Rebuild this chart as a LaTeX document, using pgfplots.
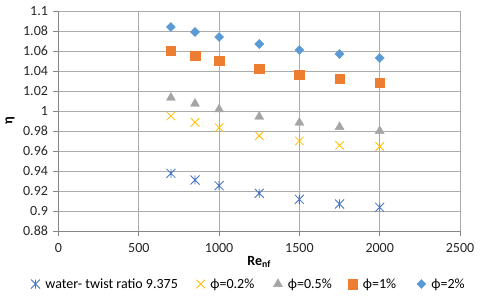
\documentclass[border=0pt]{standalone}
\usepackage{pgfplots}
\pgfplotsset{compat=1.18}
\usepackage{fontspec}
\setmainfont{Carlito}
\definecolor{cStar}{HTML}{4472C4}
\definecolor{cYel}{HTML}{FFC000}
\definecolor{cGray}{HTML}{A5A5A5}
\definecolor{cOra}{HTML}{ED7D31}
\definecolor{cBlue}{HTML}{5B9BD5}
\definecolor{gridc}{HTML}{ABABAB}
\definecolor{axc}{HTML}{868686}
\pgfdeclareplotmark{xstar}{%
  \pgfpathmoveto{\pgfqpoint{-\pgfplotmarksize}{-\pgfplotmarksize}}%
  \pgfpathlineto{\pgfqpoint{\pgfplotmarksize}{\pgfplotmarksize}}%
  \pgfpathmoveto{\pgfqpoint{-\pgfplotmarksize}{\pgfplotmarksize}}%
  \pgfpathlineto{\pgfqpoint{\pgfplotmarksize}{-\pgfplotmarksize}}%
  \pgfpathmoveto{\pgfqpoint{0pt}{-\pgfplotmarksize}}%
  \pgfpathlineto{\pgfqpoint{0pt}{\pgfplotmarksize}}%
  \pgfusepathqstroke}
\newcommand{\lt}[2]{\makebox[#1][l]{\hspace{3.5pt}#2}}
\begin{document}
\begin{tikzpicture}
\useasboundingbox (-58.5pt,-66pt) rectangle (421.5pt,231pt);
\begin{axis}[
  scale only axis, width=401.5pt, height=220pt,
  xmin=0, xmax=2500, ymin=0.88, ymax=1.1,
  xtick={0,500,1000,1500,2000,2500},
  xticklabels={0,500,1000,1500,2000,2500},
  ytick={0.88,0.9,0.92,0.94,0.96,0.98,1,1.02,1.04,1.06,1.08,1.1},
  yticklabels={0.88,0.9,0.92,0.94,0.96,0.98,1,1.02,1.04,1.06,1.08,1.1},
  grid=major,
  major grid style={gridc, line width=0.8pt},
  axis x line*=bottom, axis y line*=left,
  axis line style={axc, line width=0.8pt, -},
  tick align=outside, major tick length=5pt,
  tick style={axc, line width=0.8pt},
  every tick label/.append style={font=\fontsize{14}{16}\selectfont, text=black!85},
  yticklabel style={xshift=-2pt},
  xticklabel style={yshift=-4pt},
  every axis x label/.style={at={(axis description cs:0.5,-0.141)}, anchor=center},
  every axis y label/.style={at={(axis description cs:-0.121,0.5)}, rotate=90, anchor=center},
  xlabel={\fontsize{14}{16}\selectfont\bfseries Re\textsubscript{nf}},
  ylabel={\fontsize{14}{16}\selectfont\bfseries η},
  legend columns=5,
  legend style={draw=none, fill=none, at={(axis description cs:-0.069,-0.241)}, anchor=west,
    inner sep=0pt, font=\fontsize{14}{16}\selectfont,
    /tikz/every even column/.append style={column sep=0pt},
    /tikz/every odd column/.append style={column sep=0pt}},
  legend image code/.code={\draw[mark repeat=2,mark phase=2,#1] plot coordinates {(0cm,0cm) (0.15cm,0cm) (0.3cm,0cm)};},
  clip=false,
]
\addplot[only marks, mark=xstar, mark size=4.5pt, draw=cStar, line width=0.8pt]
  coordinates {(700,0.9377) (850,0.9310) (1000,0.9253) (1250,0.9177) (1500,0.9117) (1750,0.9070) (2000,0.9037)};
\addlegendentry{\lt{152.5pt}{water- twist ratio 9.375}}
\addplot[only marks, mark=x, mark size=6pt, draw=cYel, line width=0.8pt]
  coordinates {(700,0.9950) (850,0.9887) (1000,0.9833) (1250,0.9753) (1500,0.9700) (1750,0.9657) (2000,0.9645)};
\addlegendentry{\lt{64.5pt}{ϕ=0.2\%}}
\addplot[only marks, mark=triangle*, mark size=5.2pt, draw=cGray, fill=cGray]
  coordinates {(700,1.0133) (850,1.0073) (1000,1.0017) (1250,0.9943) (1500,0.9883) (1750,0.9840) (2000,0.9800)};
\addlegendentry{\lt{61.5pt}{ϕ=0.5\%}}
\addplot[only marks, mark=square*, mark size=4.7pt, draw=cOra, fill=cOra]
  coordinates {(700,1.0603) (850,1.0550) (1000,1.0500) (1250,1.0423) (1500,1.0360) (1750,1.0320) (2000,1.0283)};
\addlegendentry{\lt{55.5pt}{ϕ=1\%}}
\addplot[only marks, mark=square*, mark size=3.2pt, mark options={rotate=45}, draw=cBlue, fill=cBlue]
  coordinates {(700,1.0840) (850,1.0790) (1000,1.0740) (1250,1.0670) (1500,1.0610) (1750,1.0570) (2000,1.0530)};
\addlegendentry{\lt{40pt}{ϕ=2\%}}
\end{axis}
\end{tikzpicture}
\end{document}
